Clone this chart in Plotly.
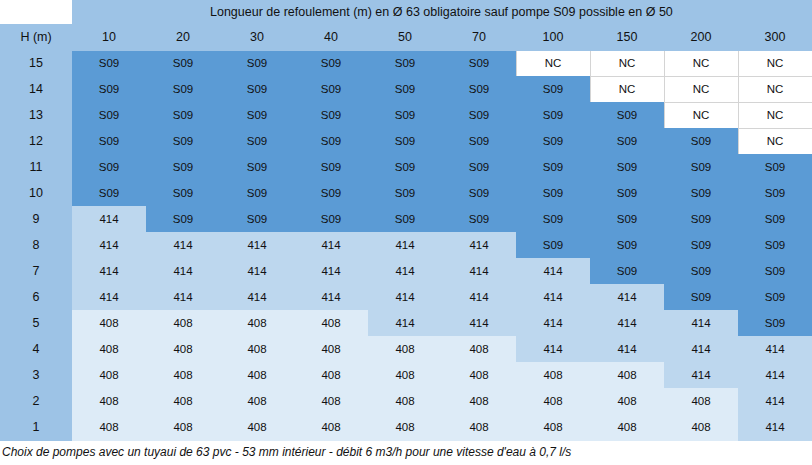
import plotly.graph_objects as go

lengths = ["10", "20", "30", "40", "50", "70", "100", "150", "200", "300"]
heights = ["15", "14", "13", "12", "11", "10", "9", "8", "7", "6", "5", "4", "3", "2", "1"]

# pump choice, one list per height (top row = 15 m)
pumps = [
    ["S09", "S09", "S09", "S09", "S09", "S09", "NC", "NC", "NC", "NC"],
    ["S09", "S09", "S09", "S09", "S09", "S09", "S09", "NC", "NC", "NC"],
    ["S09", "S09", "S09", "S09", "S09", "S09", "S09", "S09", "NC", "NC"],
    ["S09", "S09", "S09", "S09", "S09", "S09", "S09", "S09", "S09", "NC"],
    ["S09", "S09", "S09", "S09", "S09", "S09", "S09", "S09", "S09", "S09"],
    ["S09", "S09", "S09", "S09", "S09", "S09", "S09", "S09", "S09", "S09"],
    ["414", "S09", "S09", "S09", "S09", "S09", "S09", "S09", "S09", "S09"],
    ["414", "414", "414", "414", "414", "414", "S09", "S09", "S09", "S09"],
    ["414", "414", "414", "414", "414", "414", "414", "S09", "S09", "S09"],
    ["414", "414", "414", "414", "414", "414", "414", "414", "S09", "S09"],
    ["408", "408", "408", "408", "414", "414", "414", "414", "414", "S09"],
    ["408", "408", "408", "408", "408", "408", "414", "414", "414", "414"],
    ["408", "408", "408", "408", "408", "408", "408", "408", "414", "414"],
    ["408", "408", "408", "408", "408", "408", "408", "408", "408", "414"],
    ["408", "408", "408", "408", "408", "408", "408", "408", "408", "414"],
]

title = "Longueur de refoulement (m) en Ø 63 obligatoire sauf pompe S09 possible en Ø 50"
note = "Choix de pompes avec un tuyaui de 63 pvc - 53 mm intérieur - débit 6 m3/h pour une vitesse d'eau à 0,7 l/s"

HEAD = "#9DC3E6"
fills = {"S09": "#5B9BD5", "414": "#BDD7EE", "408": "#DDEBF7", "NC": "#FFFFFF"}
GRID = "#D4D4D4"

W, H = 812, 465
FONT = "Liberation Sans"

cols = [heights] + [[row[j] for row in pumps] for j in range(len(lengths))]
fill_cols = [[HEAD] * len(heights)] + [[fills[v] for v in c] for c in cols[1:]]
line_cols = [[HEAD] * len(heights)] + [[GRID if v == "NC" else fills[v] for v in c] for c in cols[1:]]

fig = go.Figure(go.Table(
    columnwidth=[72] + [74] * len(lengths),
    header=dict(
        values=["H (m)"] + lengths,
        fill_color=HEAD,
        line=dict(color=HEAD, width=1),
        align="center",
        height=26,
        font=dict(family=FONT, size=12.5, color="#111111"),
    ),
    cells=dict(
        values=cols,
        fill_color=fill_cols,
        line=dict(color=line_cols, width=1),
        align="center",
        height=26,
        font=dict(family=FONT, size=[12.5] + [11.5] * len(lengths), color="#111111"),
    ),
    domain=dict(x=[0, 1], y=[1 - 442 / H, 1 - 24 / H]),
))

# title band above the length columns
fig.add_shape(type="rect", xref="paper", yref="paper",
              x0=72 / W, x1=1, y0=1 - 24 / H, y1=1,
              fillcolor=HEAD, line_width=0, layer="below")
fig.add_annotation(text=title, xref="paper", yref="paper",
                   x=442 / W, y=1 - 12 / H, showarrow=False,
                   xanchor="center", yanchor="middle",
                   font=dict(family=FONT, size=12.5, color="#111111"))
fig.add_annotation(text="<i>" + note + "</i>", xref="paper", yref="paper",
                   x=0, y=1 - 452 / H, showarrow=False,
                   xanchor="left", yanchor="middle",
                   font=dict(family=FONT, size=12, color="#111111"))

fig.update_layout(
    width=W, height=H,
    margin=dict(l=0, r=0, t=0, b=0),
    paper_bgcolor="white",
    plot_bgcolor="white",
)

fig.write_html("out.html", config={"displayModeBar": False},
               post_script="document.body.style.margin='0';")
